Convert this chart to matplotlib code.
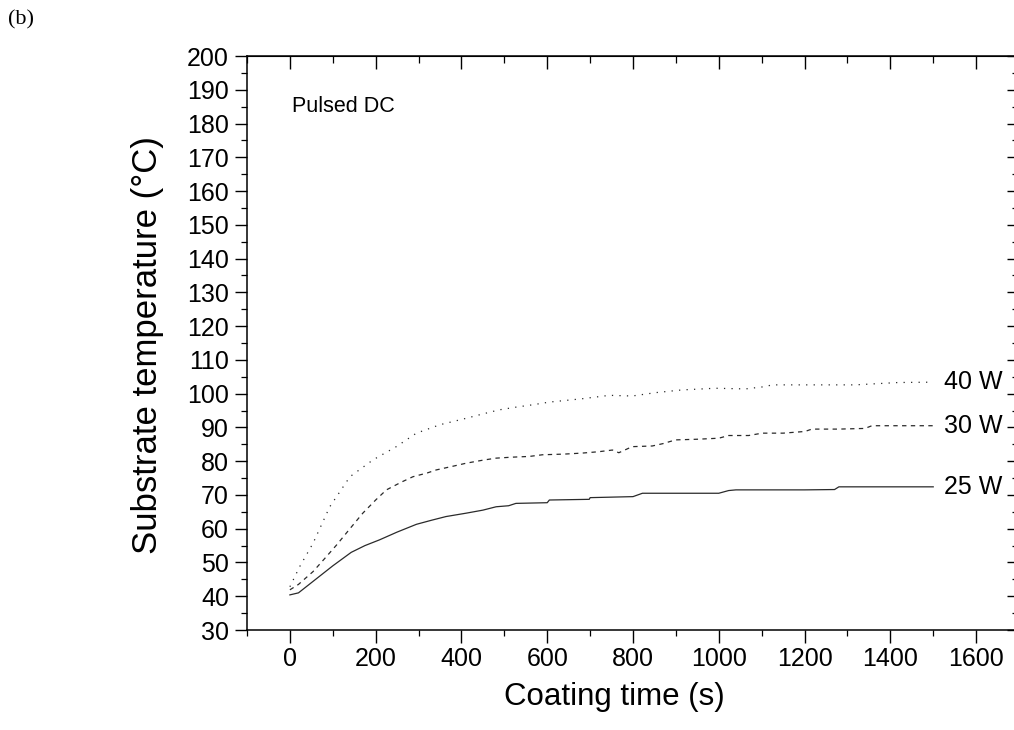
import matplotlib
matplotlib.use("Agg")
import matplotlib.pyplot as plt
from matplotlib.ticker import MultipleLocator

# ---- data ----
t_25 = [0, 20, 60, 100, 143, 175, 209, 250, 295, 330, 364, 411, 450, 481, 510, 527,
        600, 605, 698, 700, 800, 822, 900, 1000, 1023, 1040, 1100, 1200, 1270, 1280,
        1400, 1500]
T_25 = [40.4, 41, 45, 49, 53, 55, 56.7, 59, 61.3, 62.5, 63.6, 64.6, 65.5, 66.5, 66.8, 67.5,
        67.7, 68.5, 68.7, 69.2, 69.5, 70.5, 70.5, 70.5, 71.3, 71.5, 71.5, 71.5, 71.6, 72.4,
        72.4, 72.4]

t_30 = [0, 20, 54, 80, 109, 140, 170, 200, 225, 260, 287, 320, 341, 380, 411, 450,
        481, 520, 558, 589, 640, 682, 720, 752, 767, 798, 845, 870, 899, 950, 1000,
        1023, 1070, 1101, 1150, 1201, 1217, 1280, 1341, 1357, 1420, 1500]
T_30 = [41.9, 43.5, 47.3, 51, 55.2, 60, 64.6, 68.5, 71.5, 73.8, 75.4, 76.5, 77.4, 78.5, 79.4, 80.3,
        80.9, 81.2, 81.4, 81.9, 82.1, 82.4, 82.8, 83.3, 82.5, 84.3, 84.5, 85.2, 86.3, 86.5, 86.8,
        87.6, 87.6, 88.3, 88.3, 88.8, 89.5, 89.5, 89.7, 90.5, 90.5, 90.5]

t_40 = [0, 23, 54, 93, 140, 194, 248, 295, 350, 411, 450, 488, 527, 566, 605, 682,
        745, 798, 853, 914, 992, 1062, 1109, 1124, 1318, 1419, 1500]
T_40 = [42.8, 48.8, 55.7, 66.5, 75.4, 80.4, 84.3, 88.3, 90.8, 92.7, 94, 95.2, 96.0, 96.7, 97.5, 98.5,
        99.5, 99.3, 100.3, 101.1, 101.6, 101.4, 102.1, 102.6, 102.6, 103.3, 103.4]

series_labels = ["25 W", "30 W", "40 W"]
x_label = "Coating time (s)"
y_label = "Substrate temperature (\u00b0C)"
panel_tag = "(b)"
inset_text = "Pulsed DC"

plt.rcParams['font.family'] = ['Liberation Sans', 'DejaVu Sans']

fig = plt.figure(figsize=(10.14, 7.30), dpi=100)
ax = fig.add_axes([247/1014, 1-630/730, (1019-247)/1014, (630-56)/730])

line_col = '#2a2a2a'
ax.plot(t_25, T_25, color=line_col, lw=0.9, ls='-')
ax.plot(t_30, T_30, color=line_col, lw=0.9, ls=(0, (3.5, 3.5)))
ax.plot(t_40, T_40, color=line_col, lw=0.9, ls=(0, (1, 5)))

for tt, TT, lab in [(t_25, T_25, series_labels[0]), (t_30, T_30, series_labels[1]),
                    (t_40, T_40, series_labels[2])]:
    ax.text(tt[-1] + 25, TT[-1], lab, ha='left', va='center', fontsize=18, color='black')

ax.text(5, 185, inset_text, ha='left', va='center', fontsize=15.5)

ax.set_xlim(-100, 1700)
ax.set_ylim(30, 200)
ax.set_xticks(range(0, 1601, 200))
ax.set_xticks(range(-100, 1701, 100), minor=True)
ax.yaxis.set_major_locator(MultipleLocator(10))
ax.yaxis.set_minor_locator(MultipleLocator(5))

ax.tick_params(which='major', direction='out', length=9, width=1.0, labelsize=18, pad=4)
ax.tick_params(which='minor', direction='out', length=4.5, width=0.9)
ax.tick_params(top=False, right=False)
ax.tick_params(axis='x', pad=3)

for s in ax.spines.values():
    s.set_linewidth(1.1)

secx = ax.secondary_xaxis('top')
secx.xaxis.set_major_locator(MultipleLocator(200))
secx.xaxis.set_minor_locator(MultipleLocator(100))
secx.tick_params(which='major', direction='in', length=9, width=1.0, labeltop=False)
secx.tick_params(which='minor', direction='in', length=5, width=0.9)
secy = ax.secondary_yaxis('right')
secy.yaxis.set_major_locator(MultipleLocator(10))
secy.yaxis.set_minor_locator(MultipleLocator(5))
secy.tick_params(which='major', direction='in', length=9, width=1.0, labelright=False)
secy.tick_params(which='minor', direction='in', length=5, width=0.9)

ax.set_xlabel(x_label, fontsize=22.5)
ax.set_ylabel(y_label, fontsize=25)
ax.xaxis.set_label_coords((614-247)/772, (630-697)/574)
ax.xaxis.label.set_va('center')
ax.yaxis.set_label_coords((148-247)/772, 0.497)
ax.yaxis.label.set_va('center')

fig.text(8/1014, 1-20/730, panel_tag, family=['Liberation Serif', 'DejaVu Serif'],
         fontsize=16, ha='left', va='center')

fig.savefig("out.png", dpi=100)
